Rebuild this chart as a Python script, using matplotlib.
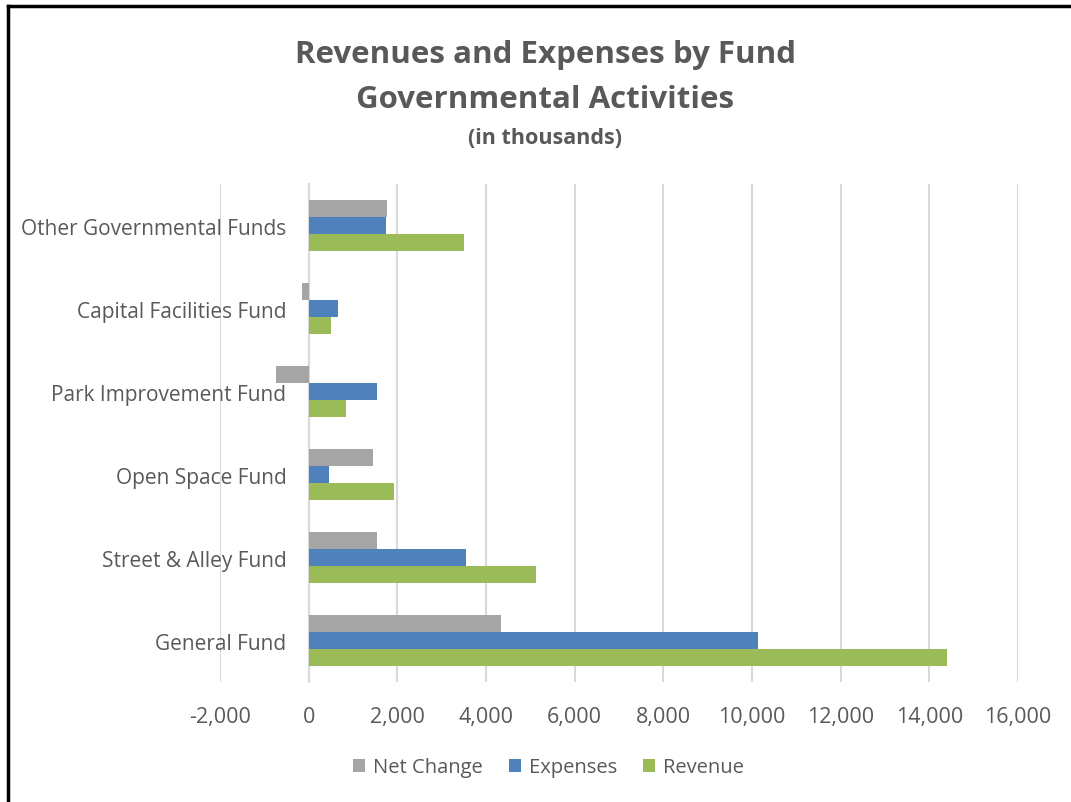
import matplotlib
matplotlib.use("Agg")
import matplotlib.pyplot as plt
from matplotlib.lines import Line2D
import numpy as np

categories = ["General Fund", "Street & Alley Fund", "Open Space Fund",
              "Park Improvement Fund", "Capital Facilities Fund",
              "Other Governmental Funds"]
net_change = [4330, 1540, 1450, -730, -160, 1770]
expenses = [10130, 3560, 460, 1540, 660, 1750]
revenue = [14410, 5130, 1920, 840, 510, 3510]
xticks = list(range(-2000, 16001, 2000))

plt.rcParams['font.family'] = ['Open Sans', 'DejaVu Sans']
txt = '#595959'

fig = plt.figure(figsize=(10.71, 8.03), dpi=100)
ax = fig.add_axes([0.2054, 0.1494, 0.7451, 0.6202])

y = np.arange(len(categories))
h = 0.205
ax.barh(y + h, net_change, height=h, color='#A5A5A5', label='Net Change', zorder=3)
ax.barh(y, expenses, height=h, color='#4F81BD', label='Expenses', zorder=3)
ax.barh(y - h, revenue, height=h, color='#9BBB59', label='Revenue', zorder=3)

ax.set_xlim(-2000, 16000)
ax.set_ylim(-0.5, len(categories) - 0.5)
ax.set_xticks(xticks)
ax.set_xticklabels([f"{v:,}" for v in xticks])
ax.set_yticks(y)
ax.set_yticklabels(categories)
ax.grid(axis='x', color='#D9D9D9', linewidth=1.5, zorder=0)
for s in ['top', 'right', 'bottom']:
    ax.spines[s].set_visible(False)
ax.spines['left'].set_position(('data', 0))
ax.spines['left'].set_color('#D9D9D9')
ax.spines['left'].set_linewidth(1.5)
ax.spines['left'].set_zorder(1)
ax.tick_params(axis='y', length=0, pad=16, labelsize=15, labelcolor=txt)
ax.tick_params(axis='x', length=0, pad=17, labelsize=15.5, labelcolor=txt)

fig.text(0.509, 0.931, "Revenues and Expenses by Fund", ha='center', va='center',
         fontsize=22.5, fontweight='bold', color=txt)
fig.text(0.509, 0.875, "Governmental Activities", ha='center', va='center',
         fontsize=22.5, fontweight='bold', color=txt)
fig.text(0.509, 0.828, "(in thousands)", ha='center', va='center',
         fontsize=15.5, fontweight='bold', color=txt)

leg = fig.legend(loc='center', bbox_to_anchor=(0.512, 0.043), ncol=3, frameon=False,
                 fontsize=14.5, handlelength=0.6, handleheight=0.6, handletextpad=0.4,
                 columnspacing=1.3)
for t in leg.get_texts():
    t.set_color(txt)

# border (top and left edges visible)
fig.add_artist(Line2D([0.0075, 1.0], [0.9913, 0.9913], color='black', linewidth=2.5,
                      transform=fig.transFigure))
fig.add_artist(Line2D([0.0075, 0.0075], [0.0, 0.9913], color='black', linewidth=2.5,
                      transform=fig.transFigure))

fig.savefig("out.png", dpi=100)
